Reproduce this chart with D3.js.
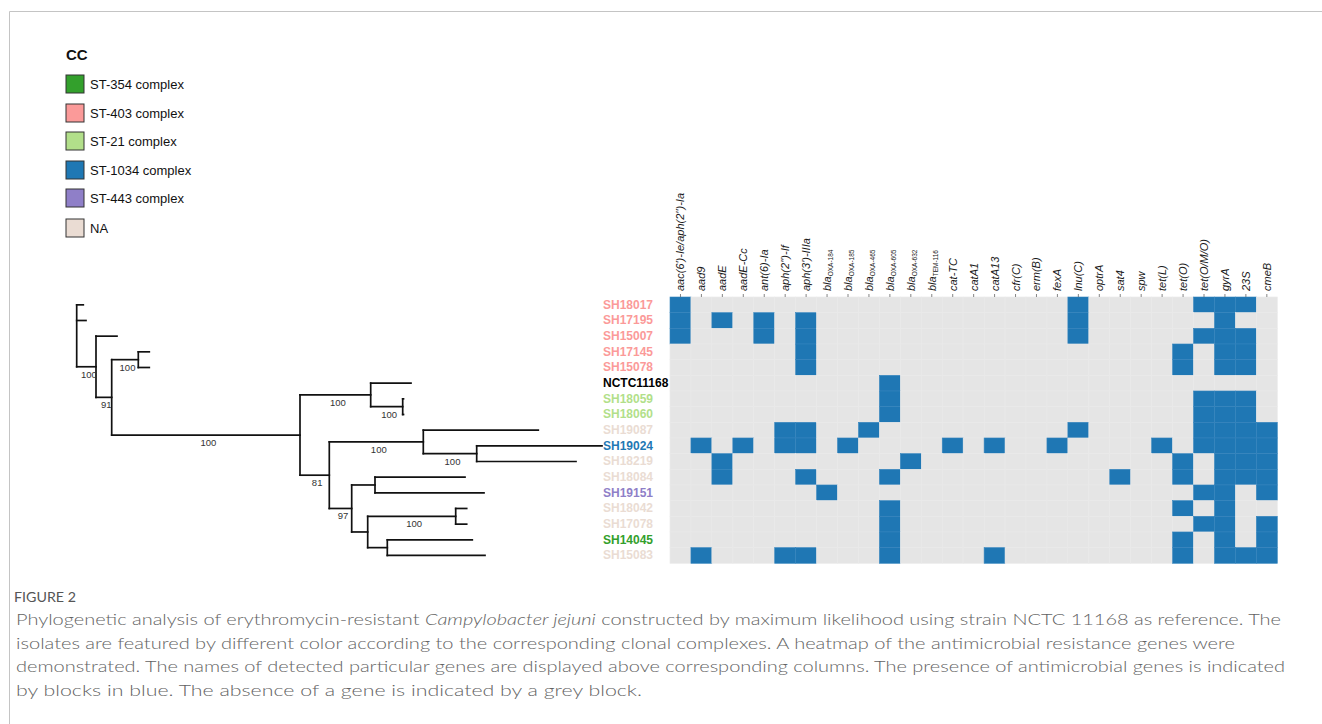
<!DOCTYPE html>
<html>
<head>
<meta charset="utf-8">
<script src="https://cdn.jsdelivr.net/npm/d3@7"></script>
<style>
  body { margin: 0; background: #fff; }
  svg { display: block; }
</style>
</head>
<body>
<div id="chart"></div>
<script>
// Legend: clonal complexes
const ccNames = ["ST-354 complex", "ST-403 complex", "ST-21 complex", "ST-1034 complex", "ST-443 complex", "NA"];
const ccColors = ["#33a02c", "#fb9a99", "#b2df8a", "#1f78b4", "#8f7fc8", "#eadcd3"];

// Isolates, top to bottom, with their clonal complex (null = reference strain)
const strains = ["SH18017", "SH17195", "SH15007", "SH17145", "SH15078", "NCTC11168", "SH18059", "SH18060",
  "SH19087", "SH19024", "SH18219", "SH18084", "SH19151", "SH18042", "SH17078", "SH14045", "SH15083"];
const strainCC = ["ST-403 complex", "ST-403 complex", "ST-403 complex", "ST-403 complex", "ST-403 complex", null,
  "ST-21 complex", "ST-21 complex", "NA", "ST-1034 complex", "NA", "NA", "ST-443 complex", "NA", "NA",
  "ST-354 complex", "NA"];

// Resistance genes (columns)
const genes = ["aac(6')-Ie/aph(2'')-Ia", "aad9", "aadE", "aadE-Cc", "ant(6)-Ia", "aph(2'')-If", "aph(3')-IIIa",
  "blaOXA-184", "blaOXA-185", "blaOXA-465", "blaOXA-605", "blaOXA-632", "blaTEM-116", "cat-TC", "catA1", "catA13",
  "cfr(C)", "erm(B)", "fexA", "lnu(C)", "optrA", "sat4", "spw", "tet(L)", "tet(O)", "tet(O/M/O)", "gyrA", "23S", "cmeB"];

// Present genes per isolate (column indices into genes)
const presence = [
  [0, 19, 25, 26, 27],
  [0, 2, 4, 6, 19, 26],
  [0, 4, 6, 19, 25, 26, 27],
  [6, 24, 26, 27],
  [6, 24, 26, 27],
  [10],
  [10, 25, 26, 27],
  [10, 25, 26, 27],
  [5, 6, 9, 19, 25, 26, 27, 28],
  [1, 3, 5, 6, 8, 13, 15, 18, 23, 25, 26, 27, 28],
  [2, 11, 24, 26, 27, 28],
  [2, 6, 10, 21, 24, 26, 27, 28],
  [7, 25, 26, 28],
  [10, 24, 26],
  [10, 25, 26, 28],
  [10, 24, 26, 28],
  [1, 5, 6, 10, 15, 24, 26, 27, 28]
];

// Maximum likelihood tree (branch lengths), bootstrap as internal labels
const newick = "(SH18017:6.6,SH17195:9.3,(SH15007:21,((SH17145:11,SH15078:11)100:26.6," +
  "((NCTC11168:40.3,(SH18059:0.8,SH18060:0.8)100:32)100:70.7," +
  "((SH19087:115,(SH19024:125.3,SH18219:99.3)100:53.4)100:94," +
  "((SH18084:90,SH19151:109):23.3,((SH18042:11,SH17078:11)100:88,(SH14045:85,SH15083:97.7):19.6):16)97:22.4)81:29.3)100:188.3)91:15.7)100:19.3);";

const captionTitle = "FIGURE 2";
const captionLines = [
  ["Phylogenetic analysis of erythromycin-resistant ", {i: "Campylobacter jejuni"}, " constructed by maximum likelihood using strain NCTC 11168 as reference. The"],
  ["isolates are featured by different color according to the corresponding clonal complexes. A heatmap of the antimicrobial resistance genes were"],
  ["demonstrated. The names of detected particular genes are displayed above corresponding columns. The presence of antimicrobial genes is indicated"],
  ["by blocks in blue. The absence of a gene is indicated by a grey block."]
];
const captionWidths = [1265, 1219, 1269, 626];

function parseNewick(s) {
  let i = 0;
  function node() {
    const n = {};
    if (s[i] === "(") {
      n.children = [];
      i++;
      n.children.push(node());
      while (s[i] === ",") { i++; n.children.push(node()); }
      i++; // ')'
    }
    let lab = "";
    while (i < s.length && !":,);".includes(s[i])) lab += s[i++];
    n.name = lab;
    if (s[i] === ":") {
      i++;
      let num = "";
      while (i < s.length && !",);".includes(s[i])) num += s[i++];
      n.length = +num;
    } else n.length = 0;
    return n;
  }
  return node();
}

const W = 1322, H = 724;
const svg = d3.select("#chart").append("svg")
  .attr("width", W).attr("height", H)
  .style("font-family", "'Liberation Sans', Arial, sans-serif");

// frame
svg.append("path")
  .attr("d", `M9.5,${H} V11.5 H${W}`)
  .attr("fill", "none").attr("stroke", "#c4c4c4").attr("stroke-width", 1);

// legend
const ccScale = d3.scaleOrdinal().domain(ccNames).range(ccColors);
svg.append("text").attr("x", 66).attr("y", 60)
  .attr("font-size", 15).attr("font-weight", "bold").attr("fill", "#111").text("CC");
const legendY = [75, 104, 132, 161, 189, 219];
const leg = svg.append("g").selectAll("g").data(ccNames).join("g")
  .attr("transform", (d, i) => `translate(66,${legendY[i]})`);
leg.append("rect").attr("width", 18).attr("height", 18)
  .attr("fill", d => ccScale(d)).attr("stroke", "#333").attr("stroke-width", 1);
leg.append("text").attr("x", 24).attr("y", 14)
  .attr("font-size", 13).attr("fill", "#111").text(d => d);

// heatmap
const x = d3.scaleBand().domain(genes).range([670, 1277.3]);
const y = d3.scaleBand().domain(strains).range([297, 563.3]);

const cells = [];
strains.forEach((s, r) => genes.forEach((g, c) => cells.push({s, g, on: presence[r].includes(c)})));

svg.append("g").selectAll("rect").data(cells).join("rect")
  .attr("x", d => x(d.g)).attr("y", d => y(d.s))
  .attr("width", x.bandwidth()).attr("height", y.bandwidth())
  .attr("fill", d => d.on ? "#1f77b4" : "#e5e5e5")
  .attr("stroke", d => d.on ? "#3584bd" : "#e9e9e9")
  .attr("stroke-width", 0.6);

// column ticks and gene labels
const xAxis = d3.axisTop(x).tickSize(3).tickSizeOuter(0).tickFormat("");
const axG = svg.append("g").attr("transform", "translate(0,297)").call(xAxis);
axG.select(".domain").remove();
axG.selectAll("line").attr("stroke", "#666").attr("stroke-width", 0.8);

const gl = svg.append("g").selectAll("text").data(genes).join("text")
  .attr("transform", d => `translate(${x(d) + x.bandwidth() / 2 + 4},291) rotate(-90)`)
  .attr("font-size", 11).attr("font-style", "italic").attr("fill", "#1a1a1a");
gl.each(function(d) {
  const t = d3.select(this);
  const m = d.match(/^bla(.+)$/);
  if (m) {
    t.append("tspan").text("bla");
    t.append("tspan").attr("font-size", 6.5).attr("font-style", "normal").attr("dy", 2).text(m[1]);
  } else t.text(d);
});

// isolate labels
svg.append("g").selectAll("text").data(strains).join("text")
  .attr("x", 603).attr("y", d => y(d) + y.bandwidth() / 2 + 4)
  .attr("font-size", 12).attr("font-weight", "bold")
  .attr("fill", (d, i) => strainCC[i] ? ccScale(strainCC[i]) : "#000")
  .text(d => d);

// tree
const root = d3.hierarchy(parseNewick(newick));
root.each(n => { n.dist = n.parent ? n.parent.dist + n.data.length : 0; });
root.eachAfter(n => {
  if (n.children) n.yy = (n.children[0].yy + n.children[n.children.length - 1].yy) / 2;
  else n.yy = y(n.data.name) + y.bandwidth() / 2;
});
const tx = d3.scaleLinear().domain([0, d3.max(root.leaves(), d => d.dist)]).range([76.7, 602]);

const tg = svg.append("g").attr("fill", "none").attr("stroke", "#111")
  .attr("stroke-width", 1.7).attr("stroke-linecap", "square");
tg.selectAll("path.h").data(root.descendants().filter(n => n.parent)).join("path")
  .attr("class", "h")
  .attr("d", n => `M${tx(n.parent.dist)},${n.yy}H${tx(n.dist)}`);
tg.selectAll("path.v").data(root.descendants().filter(n => n.children)).join("path")
  .attr("class", "v")
  .attr("d", n => `M${tx(n.dist)},${n.children[0].yy}V${n.children[n.children.length - 1].yy}`);

svg.append("g").selectAll("text")
  .data(root.descendants().filter(n => n.parent && n.children && n.data.name))
  .join("text")
  .attr("x", n => (tx(n.parent.dist) + tx(n.dist)) / 2 + 2.5)
  .attr("y", n => n.yy + 11)
  .attr("text-anchor", "middle").attr("font-size", 9.5).attr("fill", "#333")
  .text(n => n.data.name);

// caption
svg.append("text").attr("x", 14).attr("y", 602)
  .attr("font-family", "Lato, 'Open Sans', sans-serif").attr("font-size", 12.5)
  .attr("fill", "#555").attr("textLength", 62).attr("lengthAdjust", "spacingAndGlyphs")
  .text(captionTitle);

captionLines.forEach((parts, i) => {
  const t = svg.append("text").attr("x", 16).attr("y", 625 + i * 23.5)
    .attr("font-family", "Lato, 'Open Sans', sans-serif").attr("font-size", 16.5)
    .attr("font-weight", 300).attr("fill", "#636363")
    .attr("textLength", captionWidths[i]).attr("lengthAdjust", "spacingAndGlyphs");
  parts.forEach(p => {
    if (typeof p === "string") t.append("tspan").text(p);
    else t.append("tspan").attr("font-style", "italic").text(p.i);
  });
});
</script>
</body>
</html>
